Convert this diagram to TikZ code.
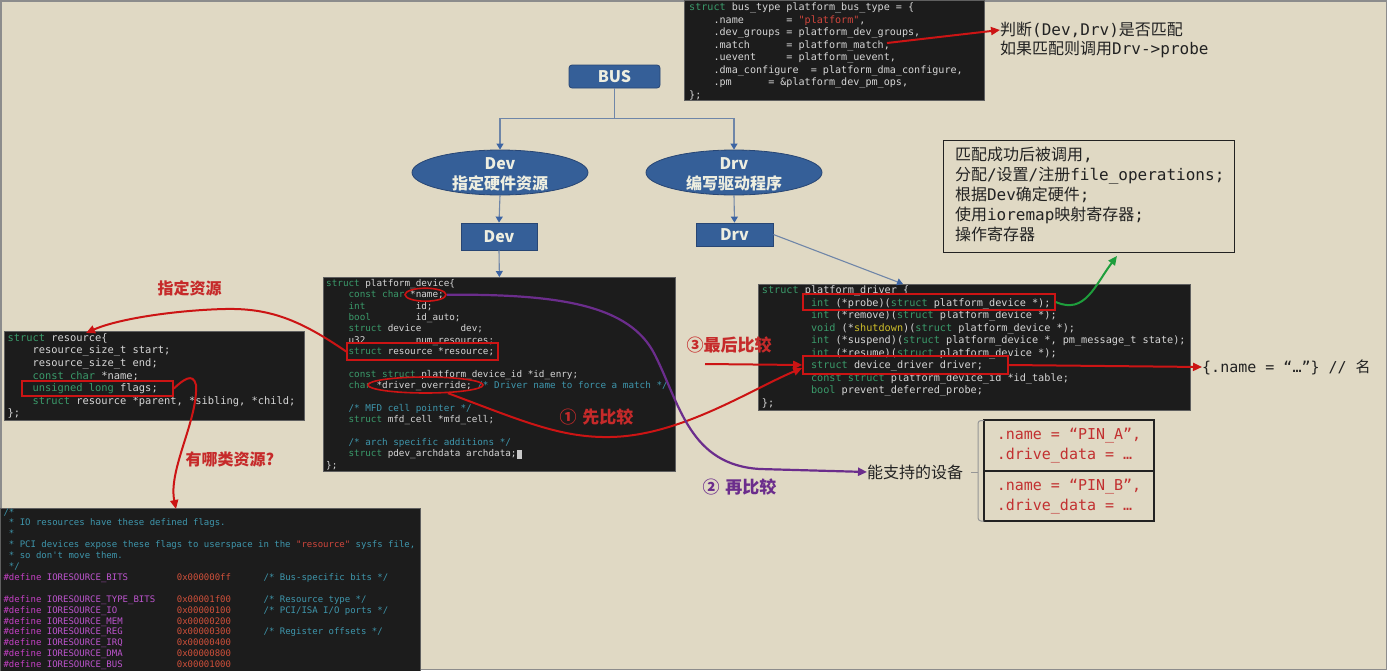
\documentclass[tikz,border=0pt]{standalone}
\usepackage{fontspec}
\setmainfont{DejaVu Sans}
\newfontfamily\cjk{Noto Sans CJK SC}
\newfontfamily\codefont{DejaVu Sans Mono}[Ligatures=TeXOff]
\usetikzlibrary{shapes.geometric,arrows.meta}

\definecolor{bgc}{RGB}{224,217,196}
\definecolor{framec}{RGB}{140,140,140}
\definecolor{codebg}{RGB}{28,28,28}
\definecolor{codeedge}{RGB}{95,95,95}
\definecolor{codefg}{RGB}{214,214,214}
\definecolor{kwc}{RGB}{58,154,106}
\definecolor{cmc}{RGB}{62,150,172}
\definecolor{src}{RGB}{208,70,60}
\definecolor{dfc}{RGB}{196,64,196}
\definecolor{ioc}{RGB}{188,84,205}
\definecolor{hxc}{RGB}{208,80,58}
\definecolor{ylc}{RGB}{205,190,42}
\definecolor{curc}{RGB}{200,200,200}
\definecolor{bluefill}{RGB}{53,95,152}
\definecolor{blueedge}{RGB}{40,70,116}
\definecolor{bluetext}{RGB}{238,238,224}
\definecolor{treec}{RGB}{111,134,168}
\definecolor{tipc}{RGB}{60,100,163}
\definecolor{annred}{RGB}{204,20,20}
\definecolor{lblred}{RGB}{198,42,42}
\definecolor{annpur}{RGB}{107,45,140}
\definecolor{anngreen}{RGB}{30,158,60}
\definecolor{pinred}{RGB}{194,48,48}
\definecolor{inkc}{RGB}{34,34,34}
\definecolor{bracec}{RGB}{150,150,150}

\newcommand{\Kw}[1]{\textcolor{kwc}{#1}}
\newcommand{\Cm}[1]{\textcolor{cmc}{#1}}
\newcommand{\Sr}[1]{\textcolor{src}{#1}}
\newcommand{\Df}[1]{\textcolor{dfc}{#1}}
\newcommand{\Io}[1]{\textcolor{ioc}{#1}}
\newcommand{\Hx}[1]{\textcolor{hxc}{#1}}
\newcommand{\Yl}[1]{\textcolor{ylc}{#1}}
\newcommand{\Sp}[1]{\hbox to #1\fontcharwd\font`\x{}}
\newcommand{\Cur}{{\color{curc}\rule[-0.2em]{0.6em}{1em}}}
\newcommand{\Lm}[1]{{\codefont #1}}

\begin{document}
\begin{tikzpicture}[x=1pt,y=-1pt,
  codebox/.style={draw=codeedge, fill=codebg, line width=0.8pt, inner sep=0pt, anchor=north west, rectangle},
  codetext/.style={anchor=north west, inner sep=0pt, align=left, text=codefg},
  busbox/.style={rectangle, rounded corners=3pt, fill=bluefill, draw=blueedge, line width=0.8pt, text=bluetext, font=\cjk\bfseries\fontsize{16}{20}\selectfont, minimum width=91pt, minimum height=23pt, inner sep=0pt},
  blueell/.style={ellipse, fill=bluefill, draw=blueedge, line width=0.8pt, minimum width=176pt, minimum height=45pt, inner sep=0pt},
  elltext/.style={text=bluetext, font=\cjk\bfseries\fontsize{16}{20}\selectfont, align=center, inner sep=0pt, yshift=-1.5pt},
  bluerect/.style={rectangle, fill=bluefill, draw=blueedge, line width=0.8pt, text=bluetext, font=\cjk\bfseries\fontsize{16}{20}\selectfont, inner sep=0pt},
  treeline/.style={draw=treec, line width=1.1pt},
  tree/.style={treeline, -{Triangle[length=6pt,width=7pt,color=tipc]}},
  redbox/.style={rectangle, draw=annred, line width=1.6pt, inner sep=0pt},
  redell/.style={ellipse, draw=annred, line width=1.6pt, inner sep=0pt},
  redarrow/.style={draw=annred, line width=2pt, -{Triangle[length=9pt,width=8pt]}},
  greenarrow/.style={draw=anngreen, line width=2pt, -{Triangle[length=9pt,width=8pt]}},
  purplearrow/.style={draw=annpur, line width=2.2pt, -{Triangle[length=9pt,width=8pt]}},
  anntext/.style={inner sep=0pt, text=inkc, font=\cjk\fontsize{16}{20}\selectfont},
  lbl/.style={inner sep=0pt, font=\cjk\bfseries\fontsize{17}{20}\selectfont},
  pinbox/.style={rectangle, draw=inkc, line width=1.1pt, align=left, inner xsep=0pt, inner ysep=0pt, minimum width=170pt, text=pinred, font=\codefont\fontsize{15}{20}\selectfont},
  probebox/.style={rectangle, draw=inkc, line width=1pt, text=inkc, font=\cjk\fontsize{16}{20}\selectfont, align=left, text width=267pt, inner xsep=12pt, inner ysep=0pt, minimum height=112pt}
]
\useasboundingbox (0,0) rectangle (1387,670);
\fill[bgc] (0,0) rectangle (1387,670);
\draw[framec, line width=1.5pt] (0.75,0.75) rectangle (1386.25,669.25);

% ---------- code boxes ----------
\node[codebox, minimum width=300pt, minimum height=100pt] (bustype) at (684,0) {};
\node[codetext, font=\codefont\fontsize{10.1}{12.5}\selectfont] (bustypeTxt) at (689,1.6) {%
\strut\Kw{struct} bus\_type platform\_bus\_type = \{\\
\Sp{4}.name\Sp{7}= \Sr{"platform"},\\
\Sp{4}.dev\_groups = platform\_dev\_groups,\\
\Sp{4}.match\Sp{6}= platform\_match,\\
\Sp{4}.uevent\Sp{5}= platform\_uevent,\\
\Sp{4}.dma\_configure\Sp{2}= platform\_dma\_configure,\\
\Sp{4}.pm\Sp{6}= \&platform\_dev\_pm\_ops,\\
\};};

\node[codebox, minimum width=352pt, minimum height=194pt] (pdev) at (323,277) {};
\node[codetext, font=\codefont\fontsize{9.3}{11.36}\selectfont] (pdevTxt) at (326,278.4) {%
\strut\Kw{struct} platform\_device\{\\
\Sp{4}\Kw{const char} *name;\\
\Sp{4}\Kw{int}\Sp{9}id;\\
\Sp{4}\Kw{bool}\Sp{8}id\_auto;\\
\Sp{4}\Kw{struct} device\Sp{7}dev;\\
\Sp{4}u32\Sp{9}num\_resources;\\
\Sp{4}\Kw{struct} resource *resource;\\
\mbox{}\\
\Sp{4}\Kw{const struct} platform\_device\_id *id\_enry;\\
\Sp{4}\Kw{char} *driver\_override; \Cm{/* Driver name to force a match */}\\
\mbox{}\\
\Sp{4}\Cm{/* MFD cell pointer */}\\
\Sp{4}\Kw{struct} mfd\_cell *mfd\_cell;\\
\mbox{}\\
\Sp{4}\Cm{/* arch specific additions */}\\
\Sp{4}\Kw{struct} pdev\_archdata archdata;\Cur\\
\};};

\node[codebox, minimum width=432pt, minimum height=126pt] (pdrv) at (758,284) {};
\node[codetext, font=\codefont\fontsize{10.2}{12.52}\selectfont] (pdrvTxt) at (761.7,284.6) {%
\strut\Kw{struct} platform\_driver \{\\
\Sp{8}\Kw{int} (*probe)(\Kw{struct} platform\_device *);\\
\Sp{8}\Kw{int} (*remove)(\Kw{struct} platform\_device *);\\
\Sp{8}\Kw{void} (*\Yl{shutdown})(\Kw{struct} platform\_device *);\\
\Sp{8}\Kw{int} (*suspend)(\Kw{struct} platform\_device *, pm\_message\_t state);\\
\Sp{8}\Kw{int} (*resume)(\Kw{struct} platform\_device *);\\
\Sp{8}\Kw{struct} device\_driver driver;\\
\Sp{8}\Kw{const struct} platform\_device\_id *id\_table;\\
\Sp{8}\Kw{bool} prevent\_deferred\_probe;\\
\};};

\node[codebox, minimum width=300pt, minimum height=89pt] (res) at (4,331) {};
\node[codetext, font=\codefont\fontsize{10.4}{12.6}\selectfont] (resTxt) at (7.3,332.3) {%
\strut\Kw{struct} resource\{\\
\Sp{4}resource\_size\_t start;\\
\Sp{4}resource\_size\_t end;\\
\Sp{4}\Kw{const char} *name;\\
\Sp{4}\Kw{unsigned long} flags;\\
\Sp{4}\Kw{struct} resource *parent, *sibling, *child;\\
\};};

\node[codebox, minimum width=420pt, minimum height=164pt] (flagsbox) at (0,508) {};
\node[codetext, font=\codefont\fontsize{9}{10.9}\selectfont] (flagsTxt) at (3.3,507.2) {%
\strut\Cm{/*}\\
\Sp{1}\Cm{* IO resources have these defined flags.}\\
\Sp{1}\Cm{*}\\
\Sp{1}\Cm{* PCI devices expose these flags to userspace in the \Sr{"resource"} sysfs file,}\\
\Sp{1}\Cm{* so don't move them.}\\
\Sp{1}\Cm{*/}\\
\Df{\#define} \Io{IORESOURCE\_BITS}\Sp{9}\Hx{0x000000ff}\Sp{6}\Cm{/* Bus-specific bits */}\\
\mbox{}\\
\Df{\#define} \Io{IORESOURCE\_TYPE\_BITS}\Sp{4}\Hx{0x00001f00}\Sp{6}\Cm{/* Resource type */}\\
\Df{\#define} \Io{IORESOURCE\_IO}\Sp{11}\Hx{0x00000100}\Sp{6}\Cm{/* PCI/ISA I/O ports */}\\
\Df{\#define} \Io{IORESOURCE\_MEM}\Sp{10}\Hx{0x00000200}\\
\Df{\#define} \Io{IORESOURCE\_REG}\Sp{10}\Hx{0x00000300}\Sp{6}\Cm{/* Register offsets */}\\
\Df{\#define} \Io{IORESOURCE\_IRQ}\Sp{10}\Hx{0x00000400}\\
\Df{\#define} \Io{IORESOURCE\_DMA}\Sp{10}\Hx{0x00000800}\\
\Df{\#define} \Io{IORESOURCE\_BUS}\Sp{10}\Hx{0x00001000}};

% ---------- bus tree ----------
\node[busbox] (bus) at (614.5,76.5) {BUS};
\node[blueell] (devE) at (500,172.5) {};
\node[elltext] (devEt) at (devE) {Dev\\指定硬件资源};
\node[blueell] (drvE) at (734,172.5) {};
\node[elltext] (drvEt) at (drvE) {Drv\\编写驱动程序};
\node[bluerect, minimum width=76pt, minimum height=27pt] (devR) at (499,236.5) {Dev};
\node[bluerect, minimum width=77pt, minimum height=23pt] (drvR) at (734.5,234.5) {Drv};
\coordinate (jn) at (614.5,118.5);
\coordinate (pdrvIn) at (903,284);
\draw[treeline] (bus.south) -- (jn);
\draw[tree] (jn) -| (devE.north);
\draw[tree] (jn) -| (drvE.north);
\draw[tree] (devE.south) -- (devR.north);
\draw[tree] (drvE.south) -- (drvR.north);
\draw[tree] (devR.south) -- (pdev.north);
\draw[tree] (drvR.east) -- (pdrvIn);

% ---------- highlights ----------
\node[redbox, minimum width=151pt, minimum height=17pt] (hResPtr) at (422.5,351.5) {};
\node[redell, minimum width=41pt, minimum height=13pt] (hName) at (425.5,294.7) {};
\node[redell, minimum width=115pt, minimum height=16pt] (hOverride) at (425.5,385) {};
\node[redbox, minimum width=151pt, minimum height=15pt] (hFlags) at (97.5,388.5) {};
\node[redbox, minimum width=252pt, minimum height=16pt] (hProbe) at (929,302) {};
\node[redbox, minimum width=205pt, minimum height=18pt] (hDrvDrv) at (905.5,365) {};

% ---------- texts ----------
\node[anntext, anchor=west] (m1) at (1000,30) {判断\Lm{(Dev,Drv)}是否匹配};
\node[anntext, anchor=west] (m2) at (1000,49) {如果匹配则调用\Lm{Drv->probe}};
\node[probebox] (probeT) at (1088.5,196) {%
\strut 匹配成功后被调用\Lm{,}\\
\strut 分配\Lm{/}设置\Lm{/}注册\Lm{file\_operations;}\\
\strut 根据\Lm{Dev}确定硬件\Lm{;}\\
\strut 使用\Lm{ioremap}映射寄存器\Lm{;}\\
\strut 操作寄存器};
\node[anchor=west, inner sep=0pt, text=inkc, font=\codefont\fontsize{15}{18}\selectfont] (nameTxt) at (1202,367) {\{.name = “…”\} // {\cjk 名}};
\node[anntext, anchor=west] (supp) at (867,472) {能支持的设备};
\node[pinbox, minimum height=51pt] (pinA) at (1069,445.5) {\strut.name\Sp{1}=\Sp{1}“PIN\_A”,\\\strut.drive\_data\Sp{1}=\Sp{1}…\Sp{1}};
\node[pinbox, minimum height=50pt] (pinB) at (1069,496) {\strut.name\Sp{1}=\Sp{1}“PIN\_B”,\\\strut.drive\_data\Sp{1}=\Sp{1}…\Sp{1}};
\draw[bracec, line width=1pt, rounded corners=3pt] (984,420.5) -- (978,420.5) -- (978,521) -- (984,521);
\draw[bracec, line width=1pt] (978,472) -- (971,472);

\node[lbl, text=lblred, font=\cjk\bfseries\fontsize{16}{20}\selectfont] (lblRes) at (189.5,288) {指定资源};
\node[lbl, text=lblred, font=\cjk\bfseries\fontsize{16}{20}\selectfont] (lblKind) at (230,459) {有哪类资源?};
\node[lbl, text=lblred] (lbl1) at (596.5,417) {①\hspace{6pt}先比较};
\node[lbl, text=annpur] (lbl2) at (739.5,487) {②\hspace{6pt}再比较};
\node[lbl, text=lblred] (lbl3) at (729,345) {③最后比较};

% ---------- connectors ----------
\coordinate (hMatch) at (887,43);
\coordinate (resIn) at (86,333);
\coordinate (flagsIn) at (176,509);
\coordinate (probeIn) at (1117,256);
\coordinate (c3) at (705,364);
\draw[redarrow] (hMatch) -- (m1.west);
\draw[redarrow] (hResPtr.west) .. controls (300,320) and (270,308) .. (225,309) .. controls (180,310) and (120,318) .. (resIn);
\draw[redarrow] (hFlags.east) .. controls (183,380) and (193,372) .. (196,385) .. controls (198,420) and (168,470) .. (flagsIn);
\draw[redarrow] (hOverride.-20) .. controls (520,420) and (560,438) .. (610,437) .. controls (680,436) and (750,390) .. ([yshift=-3pt]hDrvDrv.west);
\draw[redarrow] (c3) -- (hDrvDrv.west);
\draw[redarrow] (hDrvDrv.east) -- (nameTxt.west);
\draw[greenarrow] (hProbe.east) .. controls (1085,315) and (1095,285) .. (probeIn);
\draw[purplearrow] (hName.east) .. controls (560,294) and (630,305) .. (655,355) .. controls (680,405) and (690,465) .. (760,469) -- (supp.west);
\end{tikzpicture}
\end{document}
